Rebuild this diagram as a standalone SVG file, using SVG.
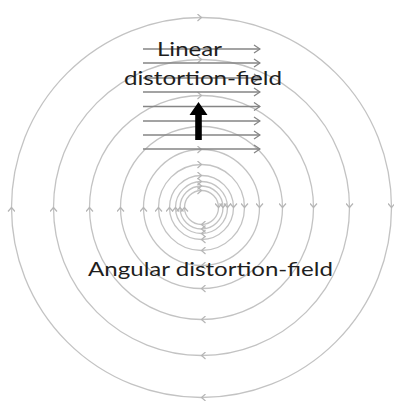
<svg xmlns="http://www.w3.org/2000/svg" width="394" height="401" viewBox="0 0 394 401">
  <style>
    .ring { fill: none; stroke: #c3c3c3; stroke-width: 1.3; marker-start: url(#chevL); marker-mid: url(#chevL); }
    .lin { fill: none; stroke: #858585; stroke-width: 1.3; marker-end: url(#chevD); }
    .lbl { font-family: Lato, "Open Sans", "Liberation Sans", sans-serif; font-size: 20px; fill: #1e1e1e; }
  </style>
  <defs>
    <marker id="chevL" viewBox="0 0 8 8" markerWidth="8" markerHeight="8" refX="5.5" refY="4" orient="auto" markerUnits="userSpaceOnUse">
      <path d="M1.5,0.5 L5.5,4 L1.5,7.5" fill="none" stroke="#b5b5b5" stroke-width="1.2"/>
    </marker>
    <marker id="chevD" viewBox="0 0 10 10" markerWidth="10" markerHeight="10" refX="9" refY="5" orient="auto" markerUnits="userSpaceOnUse">
      <path d="M3,1 L9,5 L3,9" fill="none" stroke="#858585" stroke-width="1.3"/>
    </marker>
  </defs>
  <rect width="394" height="401" fill="#ffffff"/>

  <g id="angular-field">
    <path class="ring" d="M11.5,207.5 A190,190 0 0 1 201.5,17.5 A190,190 0 0 1 391.5,207.5 A190,190 0 0 1 201.5,397.5 A190,190 0 0 1 11.5,207.5"/>
    <path class="ring" d="M53.5,207.5 A148,148 0 0 1 201.5,59.5 A148,148 0 0 1 349.5,207.5 A148,148 0 0 1 201.5,355.5 A148,148 0 0 1 53.5,207.5"/>
    <path class="ring" d="M89.5,207.5 A112,112 0 0 1 201.5,95.5 A112,112 0 0 1 313.5,207.5 A112,112 0 0 1 201.5,319.5 A112,112 0 0 1 89.5,207.5"/>
    <path class="ring" d="M120.5,207.5 A81,81 0 0 1 201.5,126.5 A81,81 0 0 1 282.5,207.5 A81,81 0 0 1 201.5,288.5 A81,81 0 0 1 120.5,207.5"/>
    <path class="ring" d="M143.5,207.5 A58,58 0 0 1 201.5,149.5 A58,58 0 0 1 259.5,207.5 A58,58 0 0 1 201.5,265.5 A58,58 0 0 1 143.5,207.5"/>
    <path class="ring" d="M158.5,207.5 A43,43 0 0 1 201.5,164.5 A43,43 0 0 1 244.5,207.5 A43,43 0 0 1 201.5,250.5 A43,43 0 0 1 158.5,207.5"/>
    <path class="ring" d="M169.5,207.5 A32,32 0 0 1 201.5,175.5 A32,32 0 0 1 233.5,207.5 A32,32 0 0 1 201.5,239.5 A32,32 0 0 1 169.5,207.5"/>
    <path class="ring" d="M175.5,207.5 A26,26 0 0 1 201.5,181.5 A26,26 0 0 1 227.5,207.5 A26,26 0 0 1 201.5,233.5 A26,26 0 0 1 175.5,207.5"/>
    <path class="ring" d="M180,207.5 A21.5,21.5 0 0 1 201.5,186 A21.5,21.5 0 0 1 223,207.5 A21.5,21.5 0 0 1 201.5,229 A21.5,21.5 0 0 1 180,207.5"/>
    <path class="ring" d="M184.5,207.5 A17,17 0 0 1 201.5,190.5 A17,17 0 0 1 218.5,207.5 A17,17 0 0 1 201.5,224.5 A17,17 0 0 1 184.5,207.5"/>
  </g>

  <g id="linear-field">
    <line class="lin" x1="143" y1="49" x2="260" y2="49"/>
    <line class="lin" x1="143" y1="63" x2="260" y2="63"/>
    <line class="lin" x1="143" y1="78" x2="260" y2="78"/>
    <line class="lin" x1="143" y1="92" x2="260" y2="92"/>
    <line class="lin" x1="143" y1="106.5" x2="260" y2="106.5"/>
    <line class="lin" x1="143" y1="121" x2="260" y2="121"/>
    <line class="lin" x1="143" y1="135" x2="260" y2="135"/>
    <line class="lin" x1="143" y1="149" x2="260" y2="149"/>
  </g>

  <g id="direction-arrow">
    <path d="M195.2,140 L195.2,115 L189.5,115 L198.5,102 L207.5,115 L201.8,115 L201.8,140 Z" fill="#000000"/>
  </g>

  <g id="label-linear">
    <text class="lbl" x="157" y="56" textLength="65" lengthAdjust="spacingAndGlyphs">Linear</text>
    <text class="lbl" x="124" y="85" textLength="158" lengthAdjust="spacingAndGlyphs">distortion-field</text>
  </g>

  <g id="label-angular">
    <text class="lbl" x="88" y="276" textLength="245" lengthAdjust="spacingAndGlyphs">Angular distortion-field</text>
  </g>
</svg>
